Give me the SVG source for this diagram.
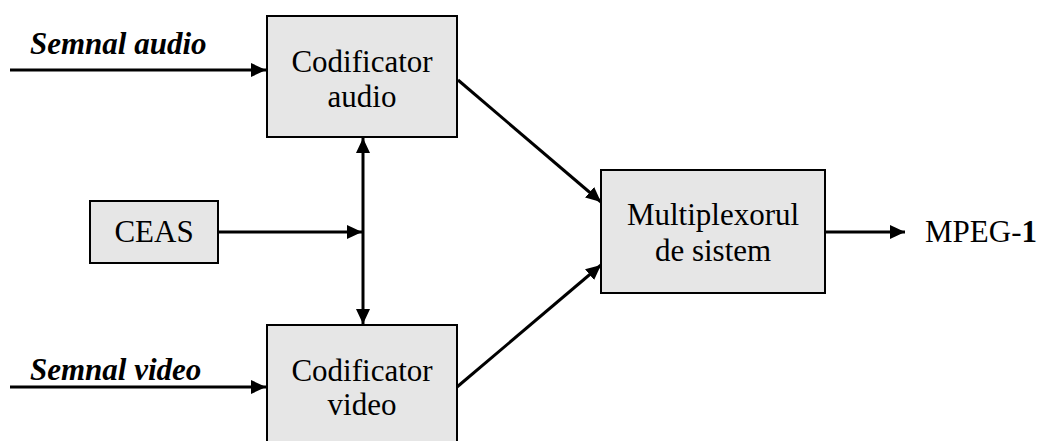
<svg xmlns="http://www.w3.org/2000/svg" width="1040" height="441" viewBox="0 0 1040 441">
  <style>
    .box { fill: #e6e6e6; stroke: #000; stroke-width: 2; }
    .t { font-family: "Liberation Serif", "Times New Roman", serif; font-size: 31px; fill: #000; text-anchor: middle; }
    .lbl { font-family: "Liberation Serif", "Times New Roman", serif; font-size: 31px; font-weight: bold; font-style: italic; fill: #000; }
    .out { font-family: "Liberation Serif", "Times New Roman", serif; font-size: 31px; fill: #000; }
    .c { fill: none; stroke: #000; stroke-width: 3; }
  </style>
  <defs>
    <marker id="ah" markerUnits="userSpaceOnUse" markerWidth="16" markerHeight="14" refX="15" refY="7" orient="auto-start-reverse">
      <path d="M0,0 L15,7 L0,14 z" fill="#000"/>
    </marker>
  </defs>
  <rect width="1040" height="441" fill="#fff"/>

  <g id="connectors">
    <line class="c" x1="10" y1="70" x2="266" y2="70" marker-end="url(#ah)"/>
    <line class="c" x1="10" y1="387" x2="266" y2="387" marker-end="url(#ah)"/>
    <line class="c" x1="218" y1="232" x2="362" y2="232" marker-end="url(#ah)"/>
    <line class="c" x1="363" y1="138" x2="363" y2="324" marker-start="url(#ah)" marker-end="url(#ah)"/>
    <line class="c" x1="458" y1="80" x2="601" y2="202" marker-end="url(#ah)"/>
    <line class="c" x1="457" y1="387" x2="601" y2="265" marker-end="url(#ah)"/>
    <line class="c" x1="825" y1="232" x2="905" y2="232" marker-end="url(#ah)"/>
  </g>

  <g id="label-audio">
    <text class="lbl" x="30" y="54">Semnal audio</text>
  </g>
  <g id="label-video">
    <text class="lbl" x="30" y="380">Semnal video</text>
  </g>

  <g id="codificator-audio">
    <rect class="box" x="267" y="16" width="190" height="121"/>
    <text class="t" x="362" y="72">Codificator</text>
    <text class="t" x="362" y="107">audio</text>
  </g>

  <g id="ceas">
    <rect class="box" x="90" y="201" width="128" height="62"/>
    <text class="t" x="154" y="242">CEAS</text>
  </g>

  <g id="codificator-video">
    <rect class="box" x="267" y="325" width="190" height="121"/>
    <text class="t" x="362" y="381">Codificator</text>
    <text class="t" x="362" y="415">video</text>
  </g>

  <g id="multiplexor">
    <rect class="box" x="601" y="170" width="224" height="123"/>
    <text class="t" x="713" y="225">Multiplexorul</text>
    <text class="t" x="713" y="261">de sistem</text>
  </g>

  <g id="mpeg1">
    <text class="out" x="925" y="242">MPEG-<tspan font-weight="bold">1</tspan></text>
  </g>
</svg>
